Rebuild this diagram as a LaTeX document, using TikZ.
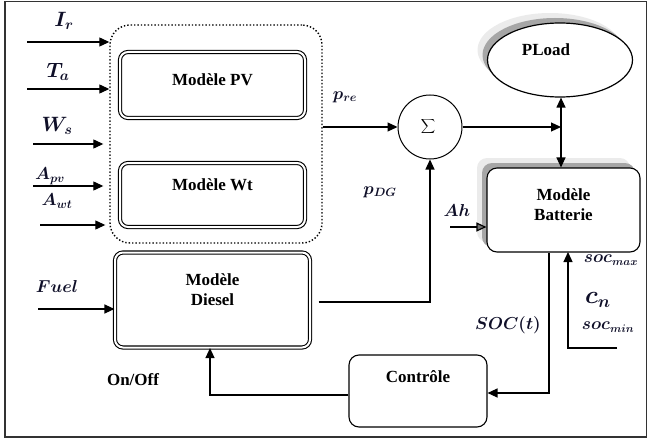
\documentclass[tikz,border=0pt]{standalone}
\usepackage{fontspec}
\setmainfont{Liberation Serif}
\usetikzlibrary{arrows.meta,shapes.geometric,shadows}
\definecolor{labcol}{RGB}{15,15,40}
\begin{document}
\begin{tikzpicture}[x=1pt,y=-1pt,>={Triangle[length=10pt,width=9pt]},line width=1.2pt]
   \tikzstyle{dblbox}=[draw,double,double distance=2pt,line width=1.1pt,rounded corners=8pt,
     align=center,font=\bfseries\fontsize{17}{20}\selectfont]
   \tikzstyle{softbox}=[draw,fill=white,rounded corners=10pt,line width=1.1pt,
     align=center,font=\bfseries\fontsize{17}{20}\selectfont]
   \tikzstyle{halo}=[general shadow={fill=black!8,shadow xshift=-10pt,shadow yshift=10pt},
     general shadow={fill=black!35,shadow xshift=-5pt,shadow yshift=5pt}]
   \tikzstyle{var}=[inner sep=0pt,text=labcol,font=\boldmath]
   \useasboundingbox (0,0) rectangle (650,441);
   \draw[line width=1.5pt,black!80] (5,1.5) rectangle (646.5,437);
   % renewable sources
   \node[draw,dotted,line width=1.4pt,rounded corners=20pt,minimum width=212pt,minimum height=218pt] (grp) at (216,134) {};
   \node[dblbox,minimum width=185pt,minimum height=66pt] (pv) at (212.5,85) {Modèle PV\\[-10pt]\mbox{}};
   \node[dblbox,minimum width=185pt,minimum height=64pt] (wt) at (212.5,195) {Modèle Wt\\[0pt]\mbox{}};
   \node[dblbox,minimum width=195pt,minimum height=95pt] (diesel) at (212.5,300) {Modèle\\Diesel\\\mbox{}};
   % inputs
   \coordinate (in1) at (27,42);
   \coordinate (in2) at (27,89);
   \coordinate (in3) at (33,144);
   \coordinate (in4) at (33,186);
   \coordinate (in5) at (40,225);
   \coordinate (in6) at (38,309);
   \draw[->] (in1) -- (in1 -| grp.west);
   \draw[->] (in2) -- (in2 -| grp.west);
   \draw[->] (in3) -- ([xshift=-6pt]in3 -| grp.west);
   \draw[->] (in4) -- ([xshift=-6pt]in4 -| grp.west);
   \draw[->] (in5) -- ([xshift=-4pt]in5 -| grp.west);
   \draw[->] (in6) -- (in6 -| diesel.west);
   \node[var,font=\boldmath\fontsize{21}{23}\selectfont] (ir) at (64,21) {$I_r$};
   \node[var,font=\boldmath\fontsize{21}{23}\selectfont] (ta) at (58,72) {$T_a$};
   \node[var,font=\boldmath\fontsize{20}{22}\selectfont] (ws) at (57,126) {$W_s$};
   \node[var,font=\boldmath\fontsize{18}{20}\selectfont] (apv) at (50,176) {$A_{pv}$};
   \node[var,font=\boldmath\fontsize{18}{20}\selectfont] (awt) at (57,201) {$A_{wt}$};
   \node[var,font=\boldmath\fontsize{18}{20}\selectfont] (fuel) at (57,286) {$Fuel$};
   % sum and load
   \node[circle,draw,line width=1pt,minimum size=64pt,inner sep=0pt,font=\fontsize{17}{20}\selectfont] (sum) at (430,127) {$\displaystyle\sum$\hspace*{4pt}};
   \node[ellipse,draw,fill=white,halo,minimum width=145pt,minimum height=74pt,
     align=center,font=\bfseries\fontsize{17}{20}\selectfont] (pload) at (560,60) {PLoad\hspace*{28pt}\\\mbox{}};
   \node[softbox,halo,minimum width=153pt,minimum height=84pt] (batt) at (563.5,210) {Modèle\\Batterie\\[-10pt]\mbox{}};
   \node[softbox,minimum width=138pt,minimum height=72pt] (ctrl) at (418,391) {Contrôle\\[8pt]\mbox{}};
   \coordinate (jn) at (561,127);
   \draw[->] (grp.east |- sum) -- (sum);
   \draw[->] (sum) -- (jn);
   \draw[<->] (pload.south -| jn) -- (batt.north -| jn);
   \draw[->] ([xshift=8pt]diesel.east |- 0,302) -| (sum.south);
   \coordinate (ahs) at (450,227);
   \draw[-{Triangle[length=10pt,width=9pt,fill=black!55]}] (ahs) -- (ahs -| batt.west);
   % control loop
   \coordinate (socb) at (549,393);
   \draw[->] (socb |- batt.south) -- (socb) -- (ctrl.east |- socb);
   \coordinate (onoff) at (210,395);
   \draw[->] (ctrl.west |- onoff) -- (onoff) -- (onoff |- diesel.south);
   \coordinate (cnin) at (617,348);
   \draw[->] (cnin) -- (568,348) -- (568,252);
   % labels
   \node[var,font=\boldmath\fontsize{18}{20}\selectfont] (pre) at (345,97) {$p_{re}$};
   \node[var,font=\boldmath\fontsize{18}{20}\selectfont] (pdg) at (380,192) {$p_{DG}$};
   \node[var,font=\boldmath\fontsize{17}{19}\selectfont] (ah) at (457,210) {$Ah$};
   \node[var,font=\boldmath\fontsize{16}{18}\selectfont] (soct) at (508,325) {$SOC(t)$};
   \node[var,font=\boldmath\fontsize{16}{18}\selectfont] (socmax) at (611,260) {$soc_{max}$};
   \node[var,font=\boldmath\fontsize{23}{25}\selectfont] (cn) at (598,300) {$c_n$};
   \node[var,font=\boldmath\fontsize{16}{18}\selectfont] (socmin) at (608,327) {$soc_{min}$};
   \node[font=\bfseries\fontsize{17}{20}\selectfont,inner sep=0pt] (onoffl) at (133,380) {On/Off};
\end{tikzpicture}
\end{document}
